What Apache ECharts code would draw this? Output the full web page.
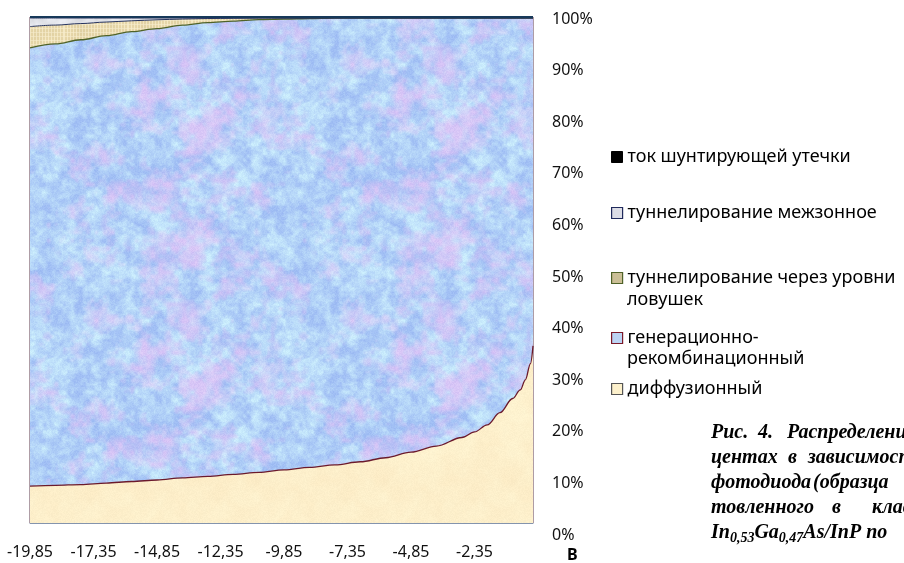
<!DOCTYPE html>
<html>
<head>
<meta charset="utf-8">
<script src="https://cdn.jsdelivr.net/npm/echarts@6/dist/echarts.min.js"></script>
<style>
  html, body { margin: 0; padding: 0; background: #fff; }
  #chart { width: 904px; height: 563px; }
</style>
</head>
<body>
<div id="chart"></div>
<script>
// Bias voltage, V
const voltage = [-19.85, -18.85, -17.85, -16.85, -15.85, -14.85, -13.85, -12.85, -11.85, -10.85,
                 -9.85, -8.85, -7.85, -6.85, -5.85, -4.85, -3.85, -2.85, -2.35, -1.85,
                 -1.35, -0.85, -0.55, -0.35, -0.15, -0.05];

// Share of each dark-current component, %
const diffusion  = [7.3, 7.45, 7.6, 7.9, 8.2, 8.5, 8.9, 9.2, 9.6, 10.0,
                    10.5, 11.0, 11.5, 12.1, 12.9, 14.0, 15.2, 16.9, 18.0, 19.4,
                    21.8, 24.6, 26.3, 28.3, 31.5, 35.0];
const genRecomb  = [86.6, 87.25, 87.9, 88.4, 88.9, 89.2, 89.5, 89.7, 89.6, 89.5,
                    89.1, 88.7, 88.3, 87.7, 86.9, 85.8, 84.6, 82.9, 81.8, 80.4,
                    78.0, 75.2, 73.5, 71.5, 68.3, 64.8];
const trapTunnel = [4.2, 3.7, 3.2, 2.7, 2.15, 1.75, 1.2, 0.8, 0.55, 0.3,
                    0.2, 0.1, 0, 0, 0, 0, 0, 0, 0, 0,
                    0, 0, 0, 0, 0, 0];
const bandTunnel = [1.7, 1.4, 1.1, 0.8, 0.55, 0.35, 0.2, 0.1, 0.05, 0,
                    0, 0, 0, 0, 0, 0, 0, 0, 0, 0,
                    0, 0, 0, 0, 0, 0];
const shuntLeak  = [0.2, 0.2, 0.2, 0.2, 0.2, 0.2, 0.2, 0.2, 0.2, 0.2,
                    0.2, 0.2, 0.2, 0.2, 0.2, 0.2, 0.2, 0.2, 0.2, 0.2,
                    0.2, 0.2, 0.2, 0.2, 0.2, 0.2];

const xTickValues = [-19.85, -17.35, -14.85, -12.35, -9.85, -7.35, -4.85, -2.35];

const NAME_SHUNT = 'ток шунтирующей утечки';
const NAME_BAND  = 'туннелирование межзонное';
const NAME_TRAP  = 'туннелирование через уровни ловушек';
const NAME_GR    = 'генерационно-рекомбинационный';
const NAME_DIFF  = 'диффузионный';

// ---- fill textures -------------------------------------------------------
function hash2(i, j, seed) {
  const s = Math.sin(i * 127.1 + j * 311.7 + seed * 53.3) * 43758.5453;
  return s - Math.floor(s);
}
function ease(t) { return t * t * (3 - 2 * t); }
function vnoise(x, y, cell, size, seed) {
  const n = size / cell;
  const gx = x / cell, gy = y / cell;
  const i0 = Math.floor(gx) % n, j0 = Math.floor(gy) % n;
  const fx = ease(gx - Math.floor(gx)), fy = ease(gy - Math.floor(gy));
  const i1 = (i0 + 1) % n, j1 = (j0 + 1) % n;
  const a = hash2(i0, j0, seed), b = hash2(i1, j0, seed);
  const c = hash2(i0, j1, seed), d = hash2(i1, j1, seed);
  return a + (b - a) * fx + (c - a) * fy + (a - b - c + d) * fx * fy;
}
function fbm(x, y, size, seed, cells, weights) {
  let v = 0;
  for (let k = 0; k < cells.length; k++) v += vnoise(x, y, cells[k], size, seed + k) * weights[k];
  return v;
}
const COARSE = [[32, 16, 8, 4], [0.35, 0.3, 0.2, 0.15]];
const FINE = [[16, 8, 4, 2], [0.3, 0.3, 0.25, 0.15]];
function mix(a, b, t) { return [a[0] + (b[0] - a[0]) * t, a[1] + (b[1] - a[1]) * t, a[2] + (b[2] - a[2]) * t]; }
function clamp(v, lo, hi) { return Math.max(lo, Math.min(hi, v)); }

function makeTexture(size, painter) {
  const c = document.createElement('canvas');
  c.width = c.height = size;
  const ctx = c.getContext('2d');
  const img = ctx.createImageData(size, size);
  for (let y = 0; y < size; y++) {
    for (let x = 0; x < size; x++) {
      const p = painter(x, y);
      const k = (y * size + x) * 4;
      img.data[k] = clamp(Math.round(p[0]), 0, 255);
      img.data[k + 1] = clamp(Math.round(p[1]), 0, 255);
      img.data[k + 2] = clamp(Math.round(p[2]), 0, 255);
      img.data[k + 3] = 255;
    }
  }
  ctx.putImageData(img, 0, 0);
  return c;
}

// mottled blue / pink paper
const texGR = makeTexture(256, (x, y) => {
  const b = fbm(x, y, 256, 7, FINE[0], FINE[1]);
  const h = fbm(x, y, 256, 1, COARSE[0], COARSE[1]);
  let col = mix([160, 190, 244], [202, 236, 252], clamp((b - 0.3) * 2.1, 0, 1));
  col = mix(col, [228, 194, 246], clamp((h - 0.48) * 2.6, 0, 0.75));
  const s = (hash2(x, y, 9) - 0.5) * 12;
  return [col[0] + s, col[1] + s, col[2] + s * 0.4];
});
// parchment
const texDiff = makeTexture(128, (x, y) => {
  const n = (fbm(x, y, 128, 21, COARSE[0], COARSE[1]) - 0.5) * 14;
  const s = (hash2(x, y, 22) - 0.5) * 6;
  return [253 + n * 0.3 + s, 240 + n + s, 204 + n * 1.4 + s];
});
// woven canvas
const texTrap = makeTexture(64, (x, y) => {
  const n = (fbm(x, y, 64, 31, FINE[0], FINE[1]) - 0.5) * 16;
  let col = [228, 212, 166];
  if (x % 3 === 0) col = [242, 230, 194];
  if (y % 4 === 0) col = mix(col, [246, 236, 205], 0.6);
  return [col[0] + n, col[1] + n, col[2] + n];
});
// grey marble
const texBand = makeTexture(64, (x, y) => {
  const n = (fbm(x, y, 64, 41, FINE[0], FINE[1]) - 0.5) * 40;
  return [226 + n, 228 + n, 234 + n];
});

// rows are [share, voltage]; the share column comes first so that it is the stacked one
function rows(arr) { return voltage.map((v, i) => [arr[i], v]); }

function areaSeries(name, arr, fill, lineColor, lineWidth) {
  return {
    name: name,
    type: 'line',
    stack: 'share',
    data: rows(arr),
    encode: { x: 1, y: 0 },
    smooth: 0.35,
    smoothMonotone: 'x',
    symbol: 'none',
    showSymbol: false,
    xAxisIndex: 0,
    yAxisIndex: 0,
    lineStyle: { color: lineColor, width: lineWidth },
    itemStyle: { color: lineColor },
    areaStyle: { color: fill, opacity: 1 },
    emphasis: { disabled: true }
  };
}
function pattern(tex) { return { image: tex, repeat: 'repeat' }; }

const chart = echarts.init(document.getElementById('chart'), null, { renderer: 'canvas' });

const sansFont = '"Noto Sans", "Open Sans", sans-serif';
const serifFont = '"Liberation Serif", "DejaVu Serif", serif';
const LEGEND_FONT = 18;

function legendBox(name, centerY, icon, label) {
  return {
    data: [{ name: name, itemStyle: icon }],
    orient: 'vertical',
    left: 611,
    top: centerY - 11.5,
    padding: 0,
    icon: 'rect',
    itemWidth: 11,
    itemHeight: 11,
    selectedMode: false,
    formatter: () => label,
    textStyle: { fontFamily: sansFont, fontSize: LEGEND_FONT, color: '#000', lineHeight: 23 }
  };
}
function legendLine(y, text) {
  return { type: 'text', x: 627, y: y, silent: true,
           style: { text: text, font: LEGEND_FONT + 'px ' + sansFont, fill: '#000', verticalAlign: 'middle', align: 'left' } };
}

const capText = { font: 'italic bold 20px ' + serifFont, fill: '#000', verticalAlign: 'middle', align: 'left' };
function word(x, y, text) {
  return { type: 'text', x: x, y: y, silent: true, style: Object.assign({ text: text }, capText) };
}

const option = {
  animation: false,
  backgroundColor: '#fff',
  grid: [
    { left: 30, right: 371, top: 17, bottom: 36, show: true, borderColor: '#5e3a4c', borderWidth: 1, backgroundColor: 'transparent' },
    { left: 30, right: 371, top: 19, bottom: 28 }
  ],
  xAxis: [
    {
      gridIndex: 0,
      type: 'value',
      min: -19.85,
      max: -0.05,
      z: 10,
      name: 'В',
      nameLocation: 'end',
      nameGap: 34,
      nameTextStyle: { fontFamily: sansFont, fontSize: 16, fontWeight: 'bold', color: '#000',
                       align: 'left', verticalAlign: 'top', padding: [24, 0, 0, 0] },
      axisLine: { show: true, onZero: false, lineStyle: { color: '#8494ad', width: 1 } },
      axisTick: { show: false },
      splitLine: { show: false },
      axisLabel: {
        customValues: xTickValues,
        formatter: v => v.toFixed(2).replace('.', ','),
        fontFamily: sansFont, fontSize: 16, color: '#111', margin: 21
      }
    },
    { gridIndex: 1, type: 'value', min: -19.85, max: -0.05, show: false }
  ],
  yAxis: [
    { gridIndex: 0, type: 'value', min: 0, max: 100, show: false, splitLine: { show: false } },
    {
      gridIndex: 1, type: 'value', min: 0, max: 100, interval: 10, position: 'right',
      axisLine: { show: false }, axisTick: { show: false }, splitLine: { show: false },
      axisLabel: { formatter: '{value}%', fontFamily: sansFont, fontSize: 16, color: '#111', margin: 19 }
    }
  ],
  legend: [
    legendBox(NAME_SHUNT, 157, { color: '#000', borderColor: '#000', borderWidth: 1 }, NAME_SHUNT),
    legendBox(NAME_BAND, 213, { color: '#dcdde6', borderColor: '#202a5c', borderWidth: 1.2 }, NAME_BAND),
    legendBox(NAME_TRAP, 278, { color: '#cbbf96', borderColor: '#4f6228', borderWidth: 1.2 }, 'туннелирование через уровни'),
    legendBox(NAME_GR, 338, { color: '#bcd4f4', borderColor: '#7a1a2a', borderWidth: 1.2 }, 'генерационно-'),
    legendBox(NAME_DIFF, 389, { color: '#fdf1cc', borderColor: '#555555', borderWidth: 1.2 }, NAME_DIFF)
  ],
  series: [
    areaSeries(NAME_DIFF, diffusion, pattern(texDiff), '#6b1a2c', 1.3),
    areaSeries(NAME_GR, genRecomb, pattern(texGR), '#4f6228', 1.3),
    areaSeries(NAME_TRAP, trapTunnel, pattern(texTrap), '#26335e', 1),
    areaSeries(NAME_BAND, bandTunnel, pattern(texBand), '#26335e', 1),
    areaSeries(NAME_SHUNT, shuntLeak, '#000', '#17395a', 2)
  ],
  graphic: [
    legendLine(300, 'ловушек'),
    legendLine(359, 'рекомбинационный'),
    word(711, 433, 'Рис.'), word(758, 433, '4.'), word(787, 433, 'Распределение'),
    word(711, 458, 'центах'), word(788, 458, 'в'), word(808, 458, 'зависимости'),
    word(711, 483, 'фотодиода'), word(813, 483, '(образца'),
    word(711, 508, 'товленного'), word(832, 508, 'в'), word(872, 508, 'кластерной'),
    {
      type: 'text', x: 711, y: 533, silent: true,
      style: Object.assign({
        text: 'In{s|0,53}Ga{s|0,47}As/InP по',
        lineHeight: 25,
        rich: { s: { font: 'italic bold 14px ' + serifFont, fill: '#000', verticalAlign: 'bottom', lineHeight: 14 } }
      }, capText)
    }
  ]
};

chart.setOption(option);
</script>
</body>
</html>
